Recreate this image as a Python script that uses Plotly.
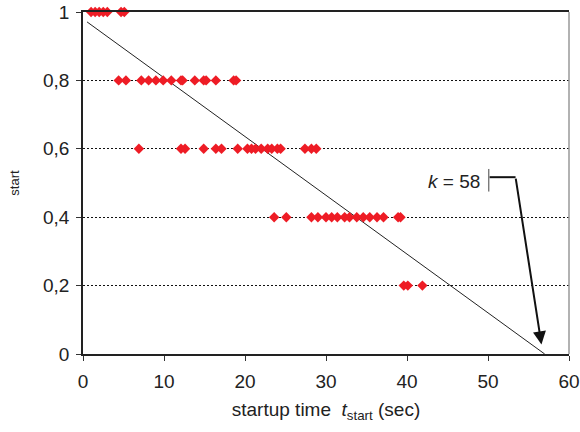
import plotly.graph_objects as go

# Observed startup times (sec) grouped by P_start level
levels = [1.0, 0.8, 0.6, 0.4, 0.2]
times_100 = [1.0, 1.5, 2.0, 2.5, 3.0, 4.7, 5.1]
times_080 = [4.4, 5.3, 7.2, 8.1, 9.0, 9.9, 10.9, 12.1, 12.3, 13.8, 14.9, 15.2, 16.4, 18.6, 18.9]
times_060 = [6.9, 12.1, 12.6, 14.9, 16.4, 17.1, 19.1, 20.3, 20.8, 21.3, 22.0, 22.8, 23.3, 24.0, 24.4,
             27.4, 28.2, 28.8]
times_040 = [23.6, 25.1, 28.2, 29.0, 30.0, 30.7, 31.4, 32.3, 32.9, 33.8, 34.6, 35.4, 36.3, 37.1,
             38.9, 39.2]
times_020 = [39.6, 40.1, 41.9]
all_times = [times_100, times_080, times_060, times_040, times_020]

# Fitted straight line
fit_t = [0.5, 57.0]
fit_p = [0.971, 0.0]

# Annotation
k_value = 58

x_ticks = [0, 10, 20, 30, 40, 50, 60]
y_ticks = [0, 0.2, 0.4, 0.6, 0.8, 1.0]
y_tick_text = ["0", "0,2", "0,4", "0,6", "0,8", "1"]

xs, ys = [], []
for lv, ts in zip(levels, all_times):
    xs += ts
    ys += [lv] * len(ts)

fig = go.Figure()
fig.add_trace(go.Scatter(x=fit_t, y=fit_p, mode="lines",
                         line=dict(color="#222222", width=1), hoverinfo="skip"))
fig.add_trace(go.Scatter(x=xs, y=ys, mode="markers",
                         marker=dict(symbol="diamond", size=8, color="#ee1c25",
                                     line=dict(width=0)), cliponaxis=False))

font_family = "Arial, 'Liberation Sans', sans-serif"

# bracket for k label
fig.add_shape(type="line", x0=50.1, x1=50.1, y0=0.475, y1=0.541,
              line=dict(color="#444444", width=1))
fig.add_shape(type="line", x0=50.2, x1=53.4, y0=0.517, y1=0.517,
              line=dict(color="#111111", width=2))
# right border
fig.add_shape(type="line", xref="paper", yref="paper", x0=1, x1=1, y0=0, y1=1,
              line=dict(color="#999999", width=1.5))

fig.add_annotation(x=56.6, y=0.028, ax=53.4, ay=0.517, xref="x", yref="y",
                   axref="x", ayref="y", text="", showarrow=True,
                   arrowhead=2, arrowsize=1.3, arrowwidth=2, arrowcolor="#111111")
fig.add_annotation(x=49.3, y=0.503, xref="x", yref="y", xanchor="right", yanchor="middle",
                   text="<i>k</i> = %d" % k_value, showarrow=False,
                   font=dict(family=font_family, size=19, color="#222222"))

fig.update_layout(
    width=580, height=432,
    margin=dict(l=83, r=11, t=12, b=78, autoexpand=False),
    paper_bgcolor="white", plot_bgcolor="white",
    showlegend=False,
    font=dict(family=font_family, size=19, color="#222222"),
)
fig.update_xaxes(range=[0, 60], tickvals=x_ticks, ticks="outside", ticklen=5,
                 ticklabelstandoff=4, ticklabeloverflow="allow",
                 tickcolor="#333333", showgrid=False, zeroline=False, automargin=False,
                 showline=True, linecolor="#222222", linewidth=1.5, mirror=True,
                 title=dict(text="startup time  <i>t</i><sub>start</sub> (sec)",
                            font=dict(size=19), standoff=12))
fig.update_yaxes(range=[0, 1], tickvals=y_ticks, ticktext=y_tick_text, ticks="outside",
                 ticklen=5, ticklabelstandoff=3, ticklabeloverflow="allow",
                 tickcolor="#333333", showgrid=True, gridcolor="#111111",
                 griddash="2px,2px", gridwidth=1, zeroline=False, automargin=False,
                 showline=True, linecolor="#222222", linewidth=1.5,
                 title=dict(text="start", font=dict(size=13), standoff=20))

# remove the page's default 8px body margin so the figure fills the window exactly
fig.write_html("out.html", config={"displayModeBar": False},
               post_script="document.body.style.margin='0';")
